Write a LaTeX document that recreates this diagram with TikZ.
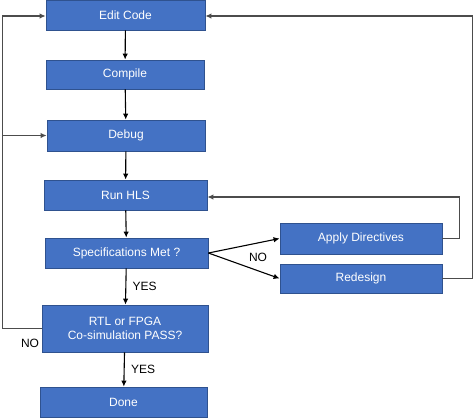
\documentclass[tikz,border=0pt]{standalone}
\usepackage{fontspec}
\setmainfont{Liberation Sans}
\usetikzlibrary{arrows.meta}
\definecolor{boxblue}{HTML}{4472C4}
\definecolor{boxline}{HTML}{2F528F}
\tikzset{stepbox/.style={draw=boxline, line width=0.8pt, fill=boxblue,
		text=white, minimum width=160pt, minimum height=30pt, align=center,
		font=\fontsize{12}{14}\selectfont, inner sep=2pt},
	flow/.style={draw=black, line width=1.1pt, -{Latex[length=6pt,width=5.5pt]}},
	loop/.style={flow, draw=black!70},
	lbl/.style={font=\fontsize{12}{14}\selectfont, text=black},
}

\begin{document}
\begin{tikzpicture}[x=1pt, y=-1pt]
		\path [use as bounding box] (0,0) rectangle (474,418);
		% main column
		\node[stepbox, minimum width=159pt] at (125.5,15) (edit) {Edit Code};
		\node[stepbox, minimum width=158pt, minimum height=29pt] at (125,74.5) (compile) {Compile};
		\node[stepbox, minimum width=158pt, minimum height=31pt] at (126,135.5) (debug) {Debug};
		\node[stepbox, minimum width=163pt] at (125.5,195) (hls) {Run HLS};
		\node[stepbox, minimum width=163pt] at (126.5,253) (spec) {Specifications Met ?};
		\node[stepbox, minimum width=166pt, minimum height=47pt] at (125,328.5) (cosim) {RTL or FPGA\\Co-simulation PASS?};
		\node[stepbox, minimum width=167pt] at (123.5,402) (done) {Done};
		% right branch
		\node[stepbox, minimum width=162pt, minimum height=31pt] at (361,238.5) (directives) {Apply Directives};
		\node[stepbox, minimum width=162pt, minimum height=29pt] at (361,278.5) (redesign) {Redesign};
		\coordinate (lft) at (2.5,135.5);
		% straight arrows
		\draw[flow] (edit) -- (compile);
		\draw[flow] (compile) -- (debug);
		\draw[flow] (debug) -- (hls);
		\draw[flow] (hls) -- (spec);
		\draw[flow] (spec) -- node[lbl, right=3pt] {YES} (cosim);
		\draw[flow] (cosim) -- node[lbl, right=3pt] {YES} (done);
		\draw[flow] (spec.east) -- (directives.west);
		\draw[flow] (spec.east) -- (redesign.west);
		\node[lbl] at (258,257) (no1) {NO};
		% feedback loops
		\draw[loop] (directives.east) -- ++(17,0) |- ([yshift=-2pt]hls.east);
		\draw[loop] (redesign.east) -- ++(30,0) |- ([yshift=-1pt]edit.east);
		\draw[loop, -] (cosim.west) -| (lft);
		\draw[loop] (lft) |- ([yshift=-1pt]edit.west);
		\draw[loop] (lft) -- (debug.west);
		\node[lbl] at (30,343) (no2) {NO};
	\end{tikzpicture}
\end{document}
